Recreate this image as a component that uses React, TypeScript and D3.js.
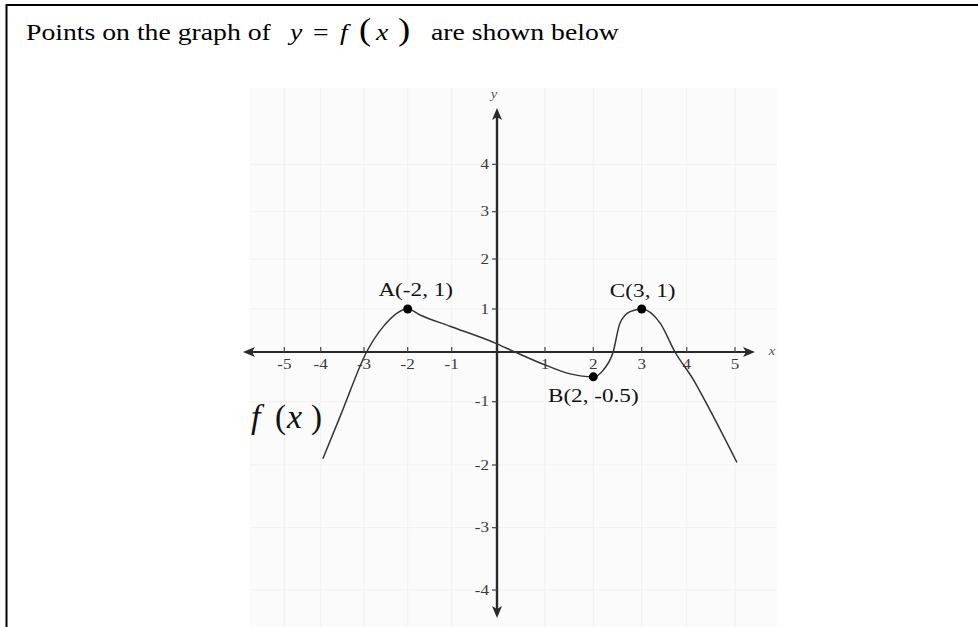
import React from "react";
import * as d3 from "d3";

// Integer ticks on each axis
const xTickValues = [-5, -4, -3, -2, -1, 1, 2, 3, 4, 5];
const yTickValues = [-4, -3, -2, -1, 1, 2, 3, 4];

// Sampled points along y = f(x)
const curveX = [-3.95, -3.52, -2.94, -2.56, -2, -1.72, -1.04, 0, 0.375, 1, 1.52, 2, 2.21, 2.41, 2.55, 2.76, 3, 3.41, 3.74, 4.14, 4.48, 5.04];
const curveY = [-1.9, -1.18, 0, 0.59, 1, 0.86, 0.6, 0.19, 0, -0.26, -0.44, -0.5, -0.36, 0, 0.67, 0.94, 1, 0.67, 0, -0.56, -1.13, -1.96];

// Marked points
const pointNames = ["A", "B", "C"];
const pointX = [-2, 2, 3];
const pointY = [1, -0.5, 1];

const W = 978;
const H = 627;
const SERIF = "'Liberation Serif', 'Times New Roman', serif";
const STRETCH = 1.22;
const TITLE_STRETCH = 1.18;

// The graph's axes are not evenly spaced, so each integer gets its own stop.
const xDomain = d3.range(-5, 6);
const xRange = [284.3, 320.7, 364, 407.7, 451.7, 497, 545, 593.3, 641.7, 686.7, 735];
const yDomain = d3.range(-4, 5);
const yRange = [590, 527.7, 465, 401.7, 352, 309, 259, 211.7, 164.3];

const x = d3.scaleLinear().domain(xDomain).range(xRange);
const y = d3.scaleLinear().domain(yDomain).range(yRange);

const AXIS_LEFT = 243;
const AXIS_RIGHT = 755;
const AXIS_TOP = 108;
const AXIS_BOTTOM = 618;

const labelOffsets: Record<string, [number, number]> = {
  A: [8, -13],
  B: [0, 25],
  C: [1, -12],
};

function fmtPoint(px: number, py: number) {
  return `(${px}, ${py})`;
}

function StretchText(props: {
  x: number;
  y: number;
  size: number;
  anchor?: string;
  fill?: string;
  italic?: boolean;
  stretch?: number;
  children: React.ReactNode;
}) {
  const { x: tx, y: ty, size, anchor = "middle", fill = "#111", italic, stretch = STRETCH, children } = props;
  return (
    <text
      transform={`translate(${tx},${ty}) scale(${stretch},1)`}
      fontFamily={SERIF}
      fontSize={size}
      textAnchor={anchor}
      fill={fill}
      fontStyle={italic ? "italic" : "normal"}
    >
      {children}
    </text>
  );
}

export default function App() {
  const pts = curveX.map((cx, i) => [cx, curveY[i]] as [number, number]);
  const line = d3
    .line<[number, number]>()
    .x((d) => x(d[0]))
    .y((d) => y(d[1]))
    .curve(d3.curveMonotoneX);

  const x0 = x(0);
  const y0 = y(0);

  const arrow = (tipX: number, tipY: number, dir: "l" | "r" | "u" | "d") => {
    const L = 12;
    const Wd = 5;
    const back = 3;
    let p: [number, number][] = [];
    if (dir === "l") p = [[tipX, tipY], [tipX + L, tipY - Wd], [tipX + L - back, tipY], [tipX + L, tipY + Wd]];
    if (dir === "r") p = [[tipX, tipY], [tipX - L, tipY - Wd], [tipX - L + back, tipY], [tipX - L, tipY + Wd]];
    if (dir === "u") p = [[tipX, tipY], [tipX - Wd, tipY + L], [tipX, tipY + L - back], [tipX + Wd, tipY + L]];
    if (dir === "d") p = [[tipX, tipY], [tipX - Wd, tipY - L], [tipX, tipY - L + back], [tipX + Wd, tipY - L]];
    return <path d={"M" + p.map((q) => q.join(",")).join("L") + "Z"} fill="#2a2a2a" />;
  };

  const TB = 40; // title baseline
  const TS = 23.5;

  return (
    <svg
      width={W}
      height={H}
      style={{ position: "absolute", left: 0, top: 0, background: "#fff" }}
    >
      {/* frame */}
      <line x1={6.5} y1={5} x2={W} y2={5} stroke="#000" strokeWidth={2} />
      <line x1={6.5} y1={4} x2={6.5} y2={H} stroke="#000" strokeWidth={2} />

      {/* title */}
      <StretchText x={26} y={TB} size={TS} anchor="start" fill="#000" stretch={TITLE_STRETCH}>
        Points on the graph of
      </StretchText>
      <StretchText x={290} y={TB} size={TS} anchor="start" fill="#000" stretch={TITLE_STRETCH} italic>
        y
      </StretchText>
      <StretchText x={313} y={TB} size={TS} anchor="start" fill="#000" stretch={TITLE_STRETCH}>
        =
      </StretchText>
      <StretchText x={340} y={TB} size={TS} anchor="start" fill="#000" stretch={TITLE_STRETCH} italic>
        f
      </StretchText>
      <StretchText x={359} y={TB} size={31} anchor="start" fill="#000" stretch={TITLE_STRETCH}>
        (
      </StretchText>
      <StretchText x={376} y={TB} size={TS} anchor="start" fill="#000" stretch={TITLE_STRETCH} italic>
        x
      </StretchText>
      <StretchText x={398} y={TB} size={31} anchor="start" fill="#000" stretch={TITLE_STRETCH}>
        )
      </StretchText>
      <StretchText x={431} y={TB} size={TS} anchor="start" fill="#000" stretch={TITLE_STRETCH}>
        are shown below
      </StretchText>

      {/* plot backdrop and faint grid */}
      <rect x={250} y={88} width={527} height={H - 88} fill="#fbfbfb" />
      <g stroke="#f1f1f1" strokeWidth={1}>
        {xTickValues.map((t) => (
          <line key={"gx" + t} x1={x(t)} x2={x(t)} y1={88} y2={H} />
        ))}
        {yTickValues.map((t) => (
          <line key={"gy" + t} x1={250} x2={777} y1={y(t)} y2={y(t)} />
        ))}
      </g>

      {/* axes */}
      <line x1={AXIS_LEFT + 4} x2={AXIS_RIGHT - 4} y1={y0} y2={y0} stroke="#2a2a2a" strokeWidth={2} />
      <line x1={x0} x2={x0} y1={AXIS_TOP + 4} y2={AXIS_BOTTOM - 4} stroke="#2a2a2a" strokeWidth={2.4} />
      {arrow(AXIS_LEFT, y0, "l")}
      {arrow(AXIS_RIGHT, y0, "r")}
      {arrow(x0, AXIS_TOP, "u")}
      {arrow(x0, AXIS_BOTTOM, "d")}

      {/* x ticks */}
      {xTickValues.map((t) => (
        <g key={"xt" + t}>
          <line x1={x(t)} x2={x(t)} y1={y0 - 5} y2={y0} stroke="#444" strokeWidth={1.2} />
          <StretchText x={x(t)} y={369} size={14} fill="#3a3a3a">
            {String(t)}
          </StretchText>
        </g>
      ))}

      {/* y ticks */}
      {yTickValues.map((t) => (
        <g key={"yt" + t}>
          <line x1={x0 - 5} x2={x0} y1={y(t)} y2={y(t)} stroke="#444" strokeWidth={1.2} />
          <StretchText x={489} y={y(t) + 4.5} size={14} fill="#3a3a3a" anchor="end">
            {String(t)}
          </StretchText>
        </g>
      ))}

      {/* axis names */}
      <StretchText x={772} y={355} size={12} fill="#555" italic>
        x
      </StretchText>
      <StretchText x={494} y={98} size={12} fill="#555" italic>
        y
      </StretchText>

      {/* curve */}
      <path d={line(pts) || ""} fill="none" stroke="#333" strokeWidth={1.5} />

      {/* marked points */}
      {pointNames.map((n, i) => {
        const px = x(pointX[i]);
        const py = y(pointY[i]);
        const [dx, dy] = labelOffsets[n];
        return (
          <g key={n}>
            <circle cx={px} cy={py} r={4.5} fill="#000" />
            <StretchText x={px + dx} y={py + dy} size={19} fill="#111">
              {n + fmtPoint(pointX[i], pointY[i])}
            </StretchText>
          </g>
        );
      })}

      {/* function name */}
      <g fontFamily={SERIF} fill="#111">
        <text x={251} y={428} fontSize={34} fontStyle="italic">f</text>
        <text x={275} y={428} fontSize={33}>(</text>
        <text x={287} y={428} fontSize={34} fontStyle="italic">x</text>
        <text x={311} y={428} fontSize={33}>)</text>
      </g>
    </svg>
  );
}
